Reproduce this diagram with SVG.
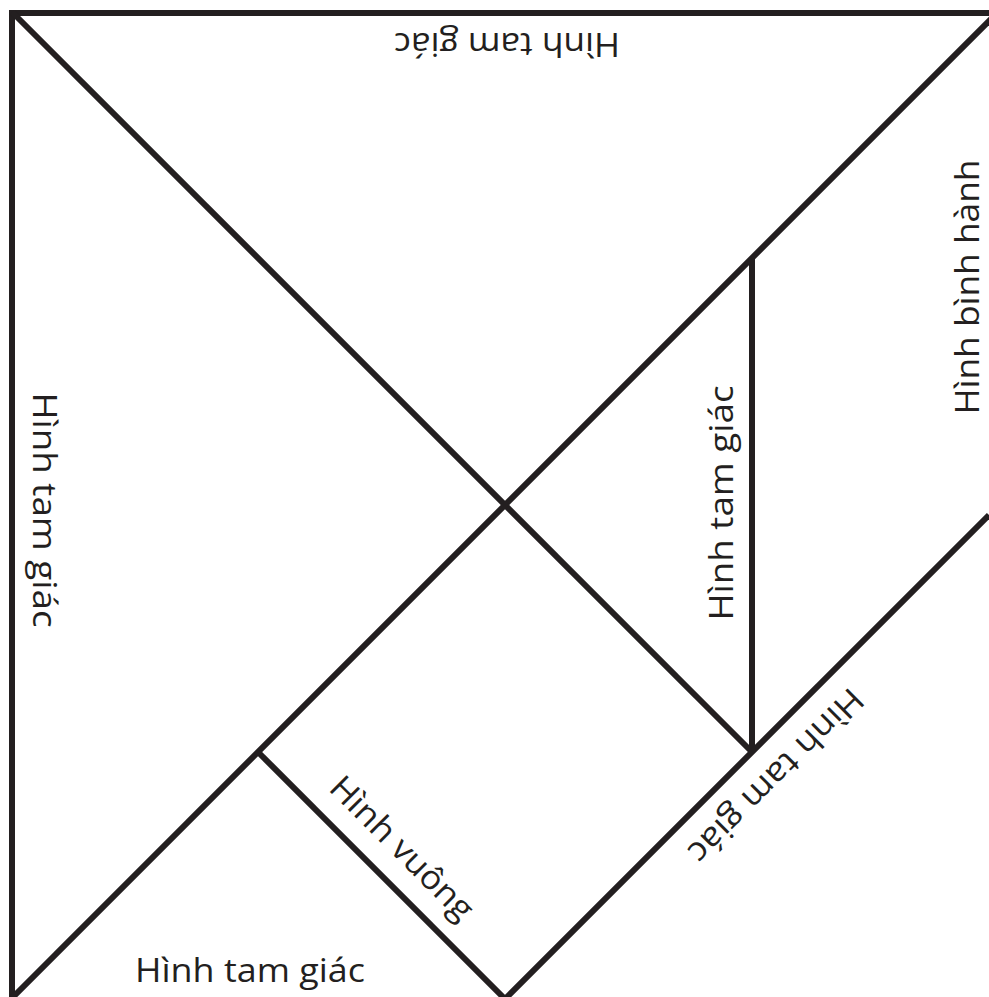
<svg xmlns="http://www.w3.org/2000/svg" width="989" height="997" viewBox="0 0 989 997">
<style>
.e{fill:none;stroke:#231f20;stroke-width:6;stroke-linecap:butt}
.t{font-family:"Open Sans",Lato,"DejaVu Sans",sans-serif;font-size:33px;fill:#231f20;text-anchor:middle}
</style>
<rect width="989" height="997" fill="#fff"/>
<g id="connectors">
<path class="e" d="M9,13 H989"/>
<path class="e" d="M12,10 V997"/>
<path class="e" d="M12,12 L752,752"/>
<path class="e" d="M12,998 L995,15"/>
<path class="e" d="M752,258 V752"/>
<path class="e" d="M258,752 L505,999"/>
<path class="e" d="M505,999 L989,515"/>
</g>
<g id="tri-top"><text class="t" transform="translate(507,33) rotate(180)" textLength="226" lengthAdjust="spacingAndGlyphs">Hình tam giác</text></g>
<g id="tri-bottom"><text class="t" x="250" y="982" textLength="230" lengthAdjust="spacingAndGlyphs">Hình tam giác</text></g>
<g id="tri-left"><text class="t" transform="translate(33,510) rotate(90)" textLength="235" lengthAdjust="spacingAndGlyphs">Hình tam giác</text></g>
<g id="tri-mid"><text class="t" transform="translate(733,503) rotate(-90)" textLength="235" lengthAdjust="spacingAndGlyphs">Hình tam giác</text></g>
<g id="parallelogram"><text class="t" transform="translate(979,287) rotate(-90)" textLength="255" lengthAdjust="spacingAndGlyphs">Hình bình hành</text></g>
<g id="square"><text class="t" transform="translate(394,856) rotate(45)" textLength="188" lengthAdjust="spacingAndGlyphs">Hình vuông</text></g>
<g id="tri-small"><text class="t" transform="translate(768,768) rotate(135)" textLength="232" lengthAdjust="spacingAndGlyphs">Hình tam giác</text></g>
</svg>
